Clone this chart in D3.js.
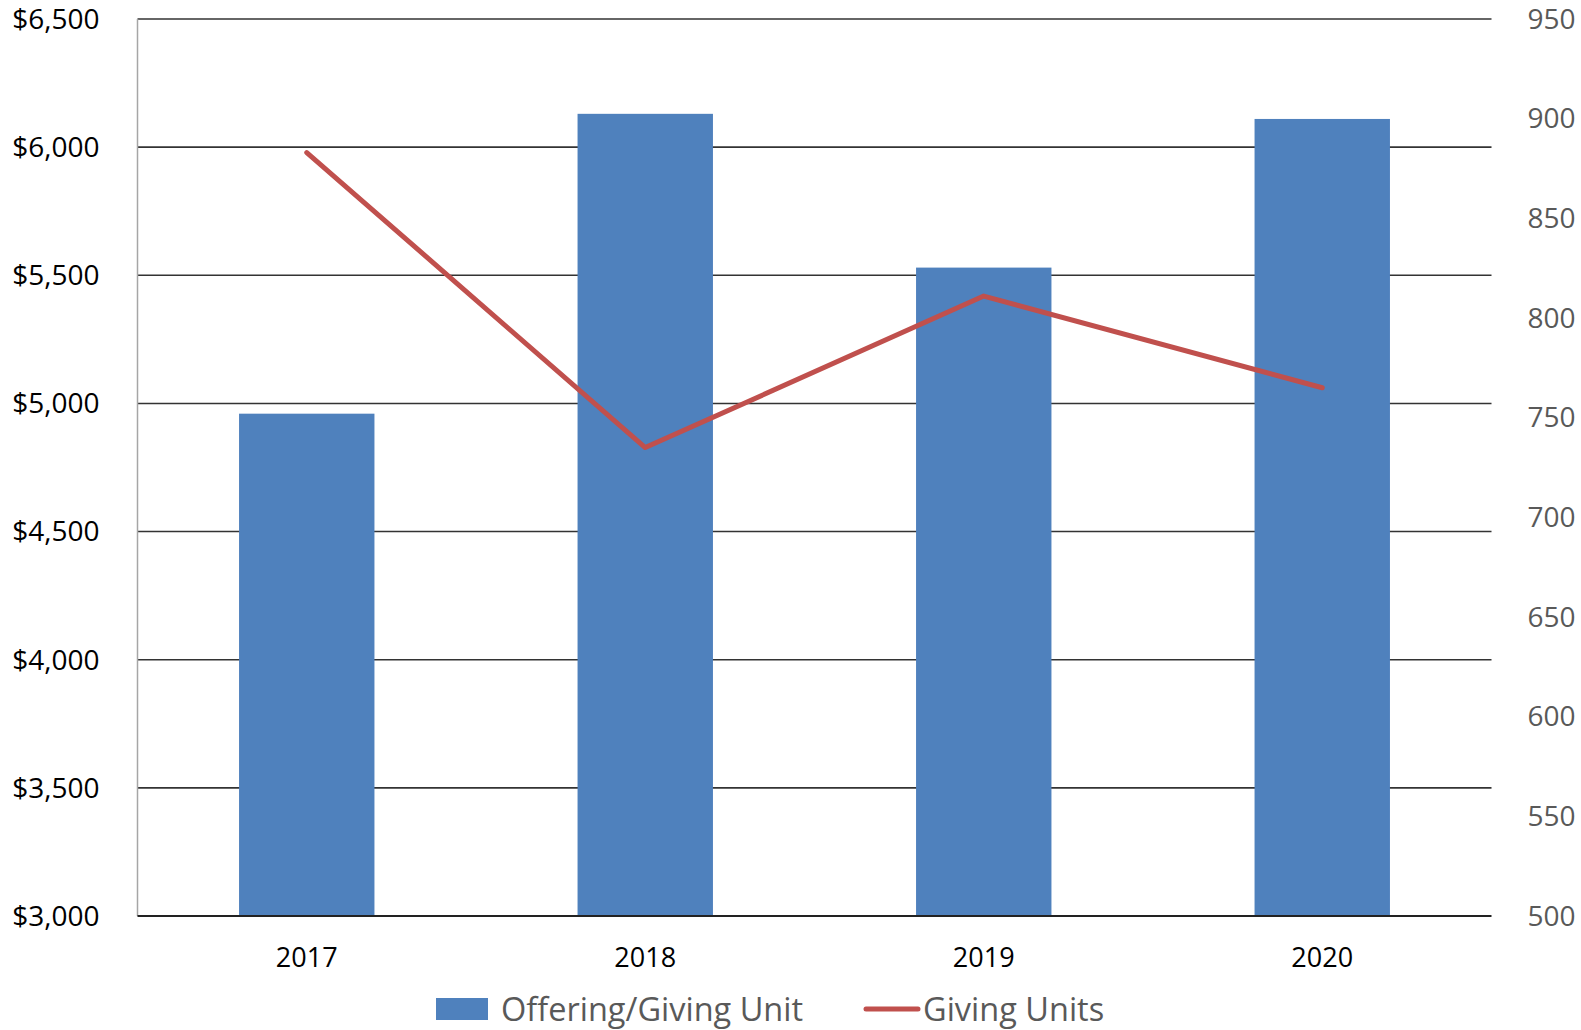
<!DOCTYPE html>
<html lang="en">
<head>
    <meta charset="UTF-8">
    <title>Offering per Giving Unit vs Giving Units</title>
    <script src="https://d3js.org/d3.v7.min.js"></script>
    <style>
        body { margin: 0; background: #fff; }
        text { font-family: "Open Sans", sans-serif; }
    </style>
</head>
<body>
    <svg id="chart" width="1581" height="1030"></svg>

    <script>
        // Data
        var years = ["2017", "2018", "2019", "2020"];
        var offeringPerUnit = [4960, 6130, 5530, 6110];
        var givingUnits = [883, 735, 811, 765];
        var leftTicks = [3000, 3500, 4000, 4500, 5000, 5500, 6000, 6500];
        var rightTicks = [500, 550, 600, 650, 700, 750, 800, 850, 900, 950];

        var margin = { top: 19, right: 89.5, bottom: 114, left: 137.5 };
        var width = 1581 - margin.left - margin.right;
        var height = 1030 - margin.top - margin.bottom;

        var svg = d3.select("#chart")
            .append("g")
            .attr("transform", "translate(" + margin.left + "," + margin.top + ")");

        var x = d3.scaleBand().domain(years).range([0, width]).paddingInner(0.6).paddingOuter(0.3);
        var yL = d3.scaleLinear().domain([3000, 6500]).range([height, 0]);
        var yR = d3.scaleLinear().domain([500, 950]).range([height, 0]);

        // Gridlines
        svg.append("g")
            .selectAll("line")
            .data(leftTicks.slice(1))
            .enter().append("line")
            .attr("x1", 0).attr("x2", width)
            .attr("y1", d => yL(d)).attr("y2", d => yL(d))
            .attr("stroke", "#333").attr("stroke-width", 1.6);

        // Bars
        svg.selectAll(".bar")
            .data(offeringPerUnit)
            .enter().append("rect")
            .attr("class", "bar")
            .attr("x", (d, i) => x(years[i]))
            .attr("width", x.bandwidth())
            .attr("y", d => yL(d))
            .attr("height", d => height - yL(d))
            .attr("fill", "#4f81bd");

        // Axis lines
        svg.append("line")
            .attr("x1", 0).attr("x2", 0).attr("y1", 0).attr("y2", height)
            .attr("stroke", "#a6a6a6").attr("stroke-width", 1.5);
        svg.append("line")
            .attr("x1", 0).attr("x2", width).attr("y1", height).attr("y2", height)
            .attr("stroke", "#222").attr("stroke-width", 2);

        // Line series
        var line = d3.line()
            .x((d, i) => x(years[i]) + x.bandwidth() / 2)
            .y(d => yR(d));
        svg.append("path")
            .datum(givingUnits)
            .attr("d", line)
            .attr("fill", "none")
            .attr("stroke", "#c0504d")
            .attr("stroke-width", 5)
            .attr("stroke-linecap", "round")
            .attr("stroke-linejoin", "round");

        // Left tick labels
        var fmt = d3.format("$,");
        svg.append("g")
            .selectAll("text")
            .data(leftTicks)
            .enter().append("text")
            .attr("x", -38)
            .attr("y", d => yL(d))
            .attr("dy", "0.35em")
            .attr("text-anchor", "end")
            .style("font-size", "28px")
            .attr("fill", "#000")
            .text(d => fmt(d));

        // Right tick labels
        svg.append("g")
            .selectAll("text")
            .data(rightTicks)
            .enter().append("text")
            .attr("x", width + 36)
            .attr("y", d => yR(d))
            .attr("dy", "0.35em")
            .attr("text-anchor", "start")
            .style("font-size", "28px")
            .attr("fill", "#595959")
            .text(d => d);

        // Category labels
        svg.append("g")
            .selectAll("text")
            .data(years)
            .enter().append("text")
            .attr("x", d => x(d) + x.bandwidth() / 2)
            .attr("y", height + 42)
            .attr("dy", "0.35em")
            .attr("text-anchor", "middle")
            .style("font-size", "27px")
            .attr("fill", "#000")
            .text(d => d);

        // Legend
        var legend = d3.select("#chart").append("g");
        legend.append("rect")
            .attr("x", 436).attr("y", 998).attr("width", 52).attr("height", 22)
            .attr("fill", "#4f81bd");
        legend.append("text")
            .attr("x", 501).attr("y", 1010).attr("dy", "0.35em")
            .style("font-size", "32.5px").attr("fill", "#595959")
            .text("Offering/Giving Unit");
        legend.append("line")
            .attr("x1", 866).attr("x2", 918).attr("y1", 1009).attr("y2", 1009)
            .attr("stroke", "#c0504d").attr("stroke-width", 5).attr("stroke-linecap", "round");
        legend.append("text")
            .attr("x", 923).attr("y", 1010).attr("dy", "0.35em")
            .style("font-size", "32.5px").attr("fill", "#595959")
            .text("Giving Units");
    </script>
</body>
</html>
